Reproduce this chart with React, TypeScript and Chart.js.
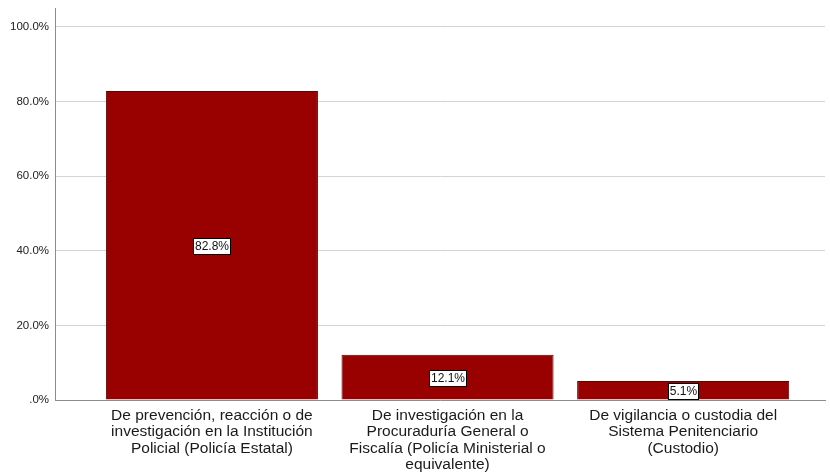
import React, { useEffect, useRef } from "react";
import { Chart, registerables } from "chart.js";

Chart.register(...registerables);

const categories: string[][] = [
  ["De prevención, reacción o de", "investigación en la Institución", "Policial (Policía Estatal)"],
  ["De investigación en la", "Procuraduría General o", "Fiscalía (Policía Ministerial o", "equivalente)"],
  ["De vigilancia o custodia del", "Sistema Penitenciario", "(Custodio)"],
];
const values: number[] = [82.8, 12.1, 5.1];
const yTicks: number[] = [0, 20, 40, 60, 80, 100];

const fmt = (v: number) => (v === 0 ? ".0%" : v.toFixed(1) + "%");

const labelPlugin = {
  id: "boxLabels",
  afterDatasetsDraw(chart: any) {
    const ctx = chart.ctx;
    const meta = chart.getDatasetMeta(0);
    ctx.save();
    ctx.font = "12px 'Liberation Sans', Arial, sans-serif";
    ctx.textAlign = "center";
    ctx.textBaseline = "middle";
    meta.data.forEach((el: any, i: number) => {
      const txt = fmt(values[i]);
      const cx = el.x;
      const cy = (el.y + el.base) / 2 + 1;
      const w = Math.round(ctx.measureText(txt).width + 3);
      const h = 16;
      const x0 = Math.round(cx - w / 2) + 0.5;
      const y0 = Math.round(cy - h / 2) + 0.5;
      ctx.fillStyle = "#ffffff";
      ctx.fillRect(x0, y0, w, h);
      ctx.strokeStyle = "#000000";
      ctx.lineWidth = 1;
      ctx.strokeRect(x0, y0, w, h);
      ctx.fillStyle = "#111111";
      ctx.fillText(txt, x0 + w / 2, y0 + h / 2 + 0.5);
    });
    ctx.restore();
  },
};

export default function App() {
  const ref = useRef<HTMLCanvasElement>(null);
  useEffect(() => {
    if (!ref.current) return;
    const chart = new Chart(ref.current, {
      type: "bar",
      data: {
        datasets: [
          {
            data: values.map((v, i) => ({ x: i, y: v })),
            backgroundColor: "#990000",
            borderColor: "#5a0505",
            borderWidth: 1,
            barPercentage: 0.9,
            categoryPercentage: 1,
          },
        ],
      },
      options: {
        responsive: false,
        animation: false,
        layout: { padding: { top: 8, right: 5, left: 0, bottom: 0 } },
        plugins: { legend: { display: false }, tooltip: { enabled: false } },
        scales: {
          x: {
            type: "linear",
            offset: false,
            min: -0.666,
            max: 2.602,
            afterBuildTicks: (s: any) => {
              s.ticks = categories.map((_, i) => ({ value: i }));
            },
            afterFit: (s: any) => {
              s.height = 76;
              s.paddingLeft = 0;
              s.paddingRight = 0;
            },
            grid: { display: false, drawTicks: false, offset: false },
            border: { display: true, color: "#8c8c8c", width: 1 },
            ticks: {
              autoSkip: false,
              maxRotation: 0,
              padding: 7,
              color: "#1a1a1a",
              font: { family: "'Liberation Sans', Arial, sans-serif", size: 15.5, lineHeight: 1.065 },
              callback: (v: any) => categories[Math.round(Number(v))] ?? "",
            },
          },
          y: {
            min: 0,
            max: 105,
            afterBuildTicks: (s: any) => {
              s.ticks = yTicks.map((v) => ({ value: v }));
            },
            afterFit: (s: any) => {
              s.width = 55;
              s.paddingTop = 0;
              s.paddingBottom = 0;
            },
            grid: { color: "#d4d4d4", drawTicks: false, lineWidth: 1 },
            border: { display: true, color: "#8c8c8c", width: 1 },
            ticks: {
              padding: 6,
              color: "#222222",
              font: { family: "'Liberation Sans', Arial, sans-serif", size: 11.5 },
              callback: (v: any) => fmt(Number(v)),
            },
          },
        },
      },
      plugins: [labelPlugin],
    } as any);
    return () => chart.destroy();
  }, []);
  return (
    <div style={{ position: "fixed", left: 0, top: 0, width: 830, height: 476, background: "#fff" }}>
      <canvas ref={ref} width={830} height={476} />
    </div>
  );
}
